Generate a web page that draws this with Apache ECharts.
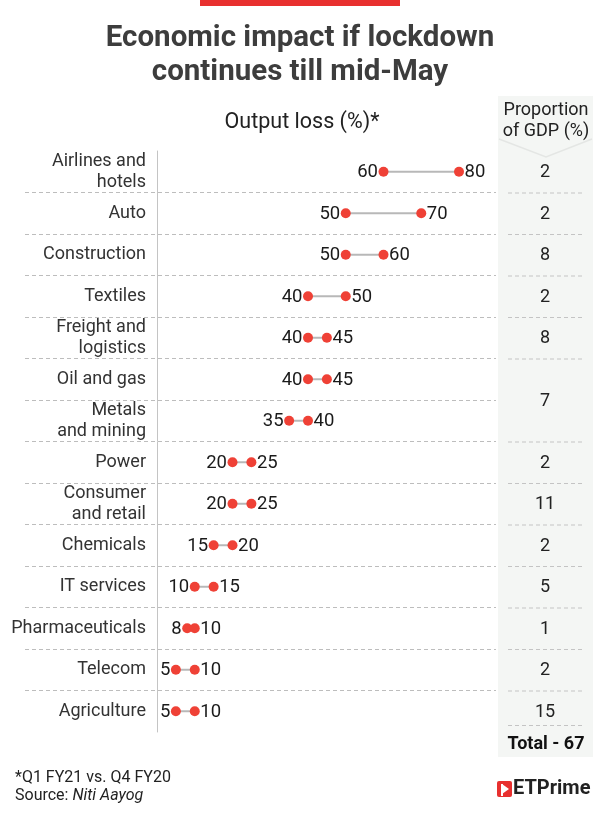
<!DOCTYPE html>
<html>
<head>
<meta charset="utf-8">
<script src="https://cdn.jsdelivr.net/npm/echarts@6/dist/echarts.min.js"></script>
<style>
html,body{margin:0;padding:0;background:#fff;}
#chart{width:600px;height:816px;}
</style>
</head>
<body>
<div id="chart"></div>
<script>
const titleText = 'Economic impact if lockdown\ncontinues till mid-May';
const axisTitle = 'Output loss (%)*';
const gdpHeader = 'Proportion\nof GDP (%)';
const totalLabel = 'Total - 67';
const footnote = '*Q1 FY21 vs. Q4 FY20';
const sourceName = 'Niti Aayog';

const categories = ['Airlines and\nhotels','Auto','Construction','Textiles','Freight and\nlogistics','Oil and gas','Metals\nand mining','Power','Consumer\nand retail','Chemicals','IT services','Pharmaceuticals','Telecom','Agriculture'];
const lowValues  = [60,50,50,40,40,40,35,20,20,15,10,8,5,5];
const highValues = [80,70,60,50,45,45,40,25,25,20,15,10,10,10];
const gdpValues  = ['2','2','8','2','8','7','','2','11','2','5','1','2','15'];
const gdpSpans   = [1,1,1,1,1,2,0,1,1,1,1,1,1,1];

const RED = '#ef4136';
const FONT = 'Roboto';
const TOP = 151, HEIGHT = 581;

const chart = echarts.init(document.getElementById('chart'), null, {renderer:'canvas'});

const catAxisBase = {
  type:'category', data:categories, inverse:true,
  axisTick:{show:false}, axisLine:{show:false}, axisLabel:{show:false}
};

const option = {
  backgroundColor:'#fff',
  animation:false,
  grid:[
    {left:25, right:104, top:TOP, height:HEIGHT},
    {left:157, right:141, top:TOP, height:HEIGHT},
    {left:498, right:8, top:TOP, height:HEIGHT}
  ],
  xAxis:[
    {gridIndex:0, type:'value', show:false, min:0, max:1},
    {gridIndex:1, type:'value', show:false, min:0, max:80},
    {gridIndex:2, type:'value', show:false, min:0, max:1}
  ],
  yAxis:[
    Object.assign({}, catAxisBase, {gridIndex:0,
      splitLine:{show:true, showMinLine:false, showMaxLine:false, lineStyle:{color:'#bdbdbd', type:[4,3], width:1}}}),
    Object.assign({}, catAxisBase, {gridIndex:1,
      axisLine:{show:true, lineStyle:{color:'#c4c4c4', width:1}},
      axisLabel:{show:true, fontFamily:FONT, fontSize:18, color:'#333', align:'right', margin:11, lineHeight:21, padding:[3,0,0,0]}}),
    Object.assign({}, catAxisBase, {gridIndex:2})
  ],
  graphic:[
    {type:'rect', z:-10, shape:{x:498, y:96, width:95, height:661}, style:{fill:'#f4f6f4'}},
    {type:'polyline', z:-5, shape:{points:[[499,139],[546,157],[592,139]]}, style:{stroke:'#e4e6e4', lineWidth:1.5, fill:null}},
    {type:'rect', shape:{x:200, y:0, width:200, height:6}, style:{fill:'#e8302f'}},
    {type:'text', x:300, y:22, style:{text:titleText, fontFamily:FONT, fontSize:29.5, fontWeight:'bold', fill:'#3d3d3d', align:'center', lineHeight:34, verticalAlign:'top'}},
    {type:'text', x:302, y:123, style:{text:axisTitle, fontFamily:FONT, fontSize:21.5, fill:'#222', align:'center', verticalAlign:'middle'}},
    {type:'text', x:546, y:121, style:{text:gdpHeader, fontFamily:FONT, fontSize:18, fill:'#222', align:'center', verticalAlign:'middle', lineHeight:21}},
    {type:'text', x:546, y:744, style:{text:totalLabel, fontFamily:FONT, fontSize:18, fontWeight:'bold', fill:'#111', align:'center', verticalAlign:'middle'}},
    {type:'text', x:15, y:769, style:{text:'{a|' + footnote + '}\n{a|Source: }{b|' + sourceName + '}', verticalAlign:'top', lineHeight:18,
      rich:{a:{fontFamily:FONT, fontSize:16, fill:'#222', lineHeight:18}, b:{fontFamily:FONT, fontSize:16, fontStyle:'italic', fill:'#222', lineHeight:18}}}},
    {type:'group', x:497, y:781, children:[
      {type:'rect', shape:{x:0, y:0, width:15, height:16, r:2}, style:{fill:'#e8302f'}},
      {type:'polygon', shape:{points:[[5,3],[12,8],[5,13]]}, style:{fill:'#fff'}},
      {type:'rect', shape:{x:4, y:3, width:2, height:12}, style:{fill:'#fff'}},
      {type:'text', x:16, y:8, style:{text:'ETPrime', fontFamily:FONT, fontSize:20, fontWeight:'bold', fill:'#222', verticalAlign:'middle'}}
    ]}
  ],
  series:[
    {
      type:'custom', xAxisIndex:1, yAxisIndex:1, clip:false,
      data: categories.map((c,i)=>[lowValues[i], highValues[i], i]),
      encode:{x:[0,1], y:2},
      renderItem:function(params, api){
        const p1 = api.coord([api.value(0), api.value(2)]);
        const p2 = api.coord([api.value(1), api.value(2)]);
        const r = 5;
        return {type:'group', children:[
          {type:'line', shape:{x1:p1[0], y1:p1[1], x2:p2[0], y2:p2[1]}, style:{stroke:'#b8b8b8', lineWidth:2}},
          {type:'circle', shape:{cx:p1[0], cy:p1[1], r:r}, style:{fill:RED}},
          {type:'circle', shape:{cx:p2[0], cy:p2[1], r:r}, style:{fill:RED}},
          {type:'text', x:p1[0]-r-0.5, y:p1[1]+1, style:{text:String(api.value(0)), fontFamily:FONT, fontSize:18.5, fill:'#1a1a1a', align:'right', verticalAlign:'middle'}},
          {type:'text', x:p2[0]+r+0.5, y:p2[1]+1, style:{text:String(api.value(1)), fontFamily:FONT, fontSize:18.5, fill:'#1a1a1a', align:'left', verticalAlign:'middle'}}
        ]};
      }
    },
    {
      type:'custom', xAxisIndex:2, yAxisIndex:2, clip:false,
      data: categories.map((c,i)=>[0.5, i, gdpSpans[i]]),
      encode:{x:0, y:1},
      renderItem:function(params, api){
        const span = api.value(2);
        if (!span) return null;
        const idx = api.value(1);
        const bw = api.size([0,1])[1];
        const c = api.coord([0.5, idx]);
        const cs = params.coordSys;
        const top = c[1] - bw/2;
        const cy = top + span*bw/2;
        const bottom = top + span*bw;
        const isLast = idx + span >= categories.length;
        const ly = (isLast ? bottom-7 : bottom) + 0.5;
        return {type:'group', children:[
          {type:'text', x:c[0], y:cy+1, style:{text:gdpValues[idx], fontFamily:FONT, fontSize:18, fill:'#222', align:'center', verticalAlign:'middle'}},
          {type:'line', shape:{x1:cs.x+10, y1:ly, x2:cs.x+cs.width-10, y2:ly}, style:{stroke:'#c4c4c4', lineWidth:1, lineDash:[4,3]}}
        ]};
      }
    }
  ]
};
chart.setOption(option);
</script>
</body>
</html>
